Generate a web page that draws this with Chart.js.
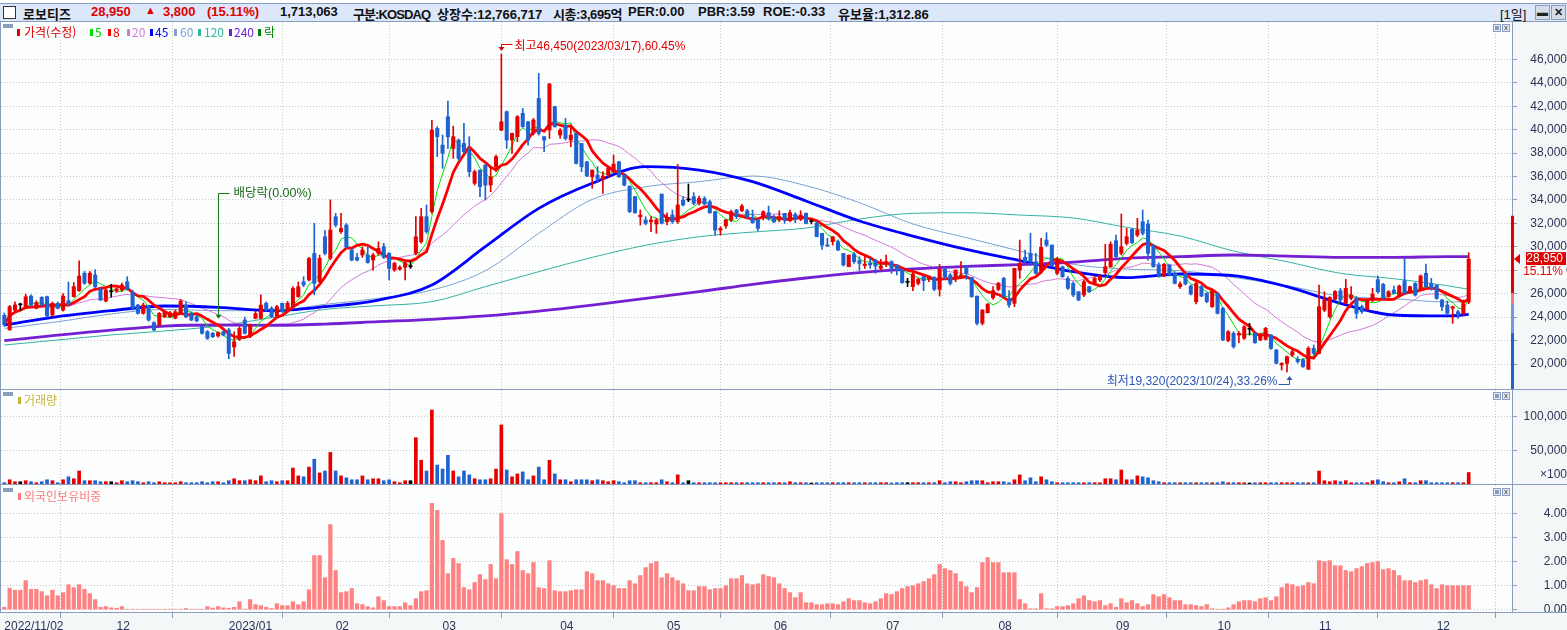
<!DOCTYPE html>
<html lang="ko">
<head>
<meta charset="utf-8">
<title>로보티즈 일봉</title>
<script src="https://cdn.jsdelivr.net/npm/chart.js@4.4.1/dist/chart.umd.min.js"></script>
<style>
html,body{margin:0;padding:0}
body{position:relative;width:1567px;height:630px;overflow:hidden;background:#f4f7f7;font-family:"Noto Sans CJK KR","Liberation Sans",sans-serif}
#topstrip{position:absolute;left:0;top:0;width:1567px;height:3px;background:#fdfefe}
#hdr{position:absolute;left:0;top:3px;width:1567px;height:17px;background:#dce7fa;border-top:1px solid #8b9dbf;border-bottom:1px solid #8b9dbf}
#hdr span{position:absolute;top:0;line-height:17px;font:bold 13px "Liberation Sans","Noto Sans CJK KR",sans-serif;color:#111;white-space:nowrap}
#hdr span.up{color:#e00000}
.chk{position:absolute;left:3px;top:2px;width:11px;height:11px;background:#fff;border:1px solid #333}
.hbtn{position:absolute;top:1px;width:15px;height:15px;box-sizing:border-box;border:1px solid #8b9dbf;background:#d7dde8;font:bold 11px "Liberation Sans";color:#222;text-align:center;line-height:13px}
.wrap{position:absolute;left:0;width:1567px}
.wrap canvas{position:absolute;left:0;top:0}
.leg{position:absolute;font-size:12px;line-height:14px;white-space:nowrap}
.mk{position:absolute;width:3px;height:7px}
.ico{position:absolute;left:3px;width:10px;height:4px;background:#8b9dbf}
.hl{position:absolute;left:0;width:1567px;height:1px;background:#8b9dbf}
.vl{position:absolute;left:0;top:22px;width:1px;height:590px;background:#8b9dbf}
.mini{position:absolute;width:8px;height:8px;box-sizing:border-box;border:1px solid #8b9dbf;background:#e6ebf3;font:bold 7px "Liberation Sans";color:#556;line-height:6px;text-align:center}
.mini i{position:absolute;left:1px;top:1px;width:4px;height:4px;background:#8b9dbf}
</style>
</head>
<body>
<div id="topstrip"></div>
<div id="hdr">
  <div class="chk"></div>
  <span style="left:23px">로보티즈</span>
  <span class="up" style="left:91px">28,950</span>
  <span class="up" style="left:145px;font-size:11px">▲</span>
  <span class="up" style="left:163px">3,800</span>
  <span class="up" style="left:207px">(15.11%)</span>
  <span style="left:280px">1,713,063</span>
  <span style="left:353px;letter-spacing:-0.9px">구분:KOSDAQ</span>
  <span style="left:437px">상장수:12,766,717</span>
  <span style="left:553px;letter-spacing:-0.4px">시총:3,695억</span>
  <span style="left:628px">PER:0.00</span>
  <span style="left:698px">PBR:3.59</span>
  <span style="left:763px">ROE:-0.33</span>
  <span style="left:838px">유보율:1,312.86</span>
  <span style="left:1500px;font-weight:normal">[1일]</span>
  <div class="hbtn" style="left:1535px">▬</div>
  <div class="hbtn" style="left:1551px">✕</div>
</div>

<div class="wrap" style="top:22px;height:367px"><canvas id="cPrice" width="1567" height="367"></canvas></div>
<div class="wrap" style="top:390px;height:94px"><canvas id="cVol" width="1567" height="94"></canvas></div>
<div class="wrap" style="top:485px;height:145px"><canvas id="cFor" width="1567" height="145"></canvas></div>

<div class="hl" style="top:389px"></div>
<div class="hl" style="top:484px"></div>
<div class="hl" style="top:612px"></div>
<div class="vl"></div>

<div class="ico" style="top:24px"></div>
<div class="mk" style="left:17px;top:29px;background:#e00000"></div><div class="leg" style="left:24px;top:25px;color:#e00000">가격(수정)</div>
<div class="mk" style="left:90px;top:29px;background:#00dd00"></div><div class="leg" style="left:95px;top:25px;color:#00cc00">5</div>
<div class="mk" style="left:108px;top:29px;background:#ff0000"></div><div class="leg" style="left:113px;top:25px;color:#ff0000">8</div>
<div class="mk" style="left:127px;top:29px;background:#d47ad6"></div><div class="leg" style="left:132px;top:25px;color:#d47ad6">20</div>
<div class="mk" style="left:150px;top:29px;background:#0000ff"></div><div class="leg" style="left:155px;top:25px;color:#0000ff">45</div>
<div class="mk" style="left:174px;top:29px;background:#7ba3d4"></div><div class="leg" style="left:180px;top:25px;color:#7ba3d4">60</div>
<div class="mk" style="left:198px;top:29px;background:#35b3a3"></div><div class="leg" style="left:204px;top:25px;color:#35b3a3">120</div>
<div class="mk" style="left:229px;top:29px;background:#7420d2"></div><div class="leg" style="left:234px;top:25px;color:#7420d2">240</div>
<div class="mk" style="left:258px;top:29px;background:#008000"></div><div class="leg" style="left:264px;top:25px;color:#008000">락</div>

<div class="ico" style="top:392px"></div>
<div class="mk" style="left:18px;top:397px;background:#c8b43c"></div><div class="leg" style="left:24px;top:393px;color:#c8b43c">거래량</div>
<div class="ico" style="top:488px"></div>
<div class="mk" style="left:18px;top:493px;background:#ff7b7b"></div><div class="leg" style="left:24px;top:489px;color:#ff7b7b">외국인보유비중</div>

<div class="mini" style="left:1493px;top:24px"><i></i></div><div class="mini" style="left:1502px;top:24px">x</div>
<div class="mini" style="left:1493px;top:392px"><i></i></div><div class="mini" style="left:1502px;top:392px">x</div>
<div class="mini" style="left:1493px;top:488px"><i></i></div><div class="mini" style="left:1502px;top:488px">x</div>

<script>
// 2022/11/02 ~ 2023/12/11 일봉 (수정주가)
var opens = [
  24150, 22900, 24600, 25050, 24830, 25800, 24750, 25690, 25750, 24180,
  25180, 24600, 25400, 25750, 26260, 27750, 26900, 27600, 26370, 25370,
  26170, 26230, 26320, 27020, 26090, 25030, 24320, 24890, 23530, 23330,
  24040, 24040, 23900, 24320, 25030, 24320, 24040, 23180, 22760, 22620,
  22390, 22760, 22900, 21450, 22100, 23750, 22350, 23900, 23900, 25180,
  24750, 24100, 25180, 24600, 24890, 25750, 27020, 27170, 29440, 27020,
  30860, 29020, 32570, 31290, 31860, 29730, 29100, 29300, 29300, 28870,
  29440, 30010, 29440, 28020, 28080, 28250, 28300, 29440, 30430, 32570,
  33000, 40100, 38680, 41100, 38400, 39110, 38820, 38260, 35420, 36550,
  36980, 35270, 36840, 39960, 41530, 39110, 39400, 41390, 40670, 39680,
  42660, 39400, 39960, 41960, 39540, 40390, 39110, 39680, 38820, 37260,
  35980, 36120, 35760, 36120, 36410, 37260, 36120, 35180, 34280, 32570,
  32290, 32140, 31950, 34500, 32140, 32710, 32140, 33990, 33990, 34280,
  33710, 34130, 33850, 33000, 31430, 31780, 32290, 33140, 33080, 33080,
  32510, 32290, 32510, 32910, 32570, 32290, 32860, 32230, 32770, 32340,
  32860, 32140, 31990, 31150, 30150, 30440, 30430, 29440, 28300, 29380,
  28820, 28390, 28590, 28870, 28160, 28530, 28730, 28450, 28080, 26970,
  26600, 26880, 27450, 27230, 27400, 26370, 28080, 27590, 27310, 27400,
  28360, 27400, 25800, 23470, 24380, 25660, 26370, 27310, 25600, 25180,
  28020, 29100, 29440, 28730, 27880, 30580, 30150, 27740, 28300, 27310,
  26880, 26170, 25890, 26600, 26880, 27170, 27790, 28300, 30520, 29440,
  30290, 31490, 31000, 32140, 31950, 30150, 28450, 27510, 28450, 27740,
  26600, 27670, 26660, 25320, 26600, 26030, 24890, 26030, 24750, 22000,
  22620, 22470, 22190, 22960, 22620, 22050, 22100, 22470, 21190, 19920,
  20060, 20770, 20400, 20340, 19550, 21340, 20910, 24600, 24040, 25520,
  26260, 25180, 25600, 25600, 24890, 24660, 25460, 27200, 26800, 25750,
  26310, 25750, 27110, 26090, 26880, 26450, 27740, 26880, 26740, 25460,
  25030, 24750, 24460, 24320, 25300
];
var highs = [
  24350, 25000, 25300, 25200, 25970, 25900, 25400, 25750, 25800, 25300,
  25300, 26000, 27000, 26950, 28800, 27900, 27900, 28050, 26500, 26400,
  26800, 26500, 26900, 27450, 26300, 25100, 25200, 25000, 23600, 24400,
  24500, 24500, 24600, 25500, 25300, 24450, 24150, 23300, 22850, 22700,
  22750, 22800, 23050, 22750, 23200, 24000, 23400, 24500, 25900, 25300,
  24900, 25000, 25200, 25350, 26600, 27000, 27450, 29100, 32000, 29300,
  31400, 34000, 32850, 32850, 32000, 29900, 29440, 30000, 30000, 29440,
  30430, 30300, 29500, 28700, 28400, 28700, 28750, 32570, 33280, 33570,
  40800, 40250, 39540, 42440, 40300, 39200, 40530, 39400, 36550, 36550,
  37000, 36830, 37830, 46450, 41600, 39700, 41200, 41810, 40700, 40960,
  44800, 39400, 43950, 42000, 40100, 40960, 40390, 39700, 38820, 37300,
  36550, 36840, 36410, 36830, 37830, 37300, 36200, 35200, 34300, 33140,
  32570, 32570, 32430, 34500, 32910, 33140, 37030, 34280, 35360, 34620,
  34330, 34280, 33990, 33000, 31720, 32340, 33140, 33200, 33620, 33200,
  33140, 32340, 33080, 33480, 32710, 33080, 32860, 33140, 32910, 33080,
  32910, 32340, 32140, 31150, 30720, 30860, 30580, 29440, 29300, 29500,
  29160, 29300, 29020, 28930, 28930, 29300, 28820, 28450, 28080, 27310,
  27880, 27310, 27510, 27510, 27450, 28500, 28160, 27740, 28020, 28730,
  28360, 27400, 25800, 24650, 25150, 26600, 26970, 27400, 26260, 28160,
  30580, 29730, 31150, 29440, 30720, 31210, 30150, 29100, 28360, 27450,
  27020, 26170, 27170, 26600, 27450, 27590, 30220, 30430, 31000, 32800,
  31570, 31570, 32430, 33140, 32290, 30150, 28650, 28590, 28530, 27880,
  27020, 27740, 26740, 27020, 26740, 26090, 26370, 26090, 24830, 22850,
  22760, 22760, 23270, 23470, 22670, 22620, 23130, 22520, 21250, 20120,
  20680, 21190, 20630, 20480, 21480, 21620, 26740, 26170, 25750, 26260,
  26460, 27230, 26600, 25750, 25030, 25520, 26460, 27510, 26880, 26260,
  26650, 26740, 28990, 26660, 26940, 27600, 28530, 27310, 26740, 25520,
  25380, 24950, 24600, 25460, 29500
];
var lows = [
  23200, 22900, 24500, 24600, 24750, 24950, 24700, 24950, 24000, 24100,
  24700, 24500, 25000, 25700, 26200, 26800, 26800, 26500, 25400, 25300,
  25700, 26100, 26200, 26300, 24600, 24250, 24250, 23650, 22850, 23250,
  23950, 23950, 23850, 24250, 23950, 23700, 23600, 22550, 22100, 22250,
  22300, 22400, 20450, 20650, 22000, 22550, 22250, 23850, 23850, 24500,
  23950, 24000, 24400, 24500, 24800, 25700, 26600, 27100, 25900, 26900,
  29300, 28900, 31700, 31150, 29900, 28800, 28800, 29100, 28600, 28000,
  29300, 29000, 27170, 27900, 28000, 27170, 28150, 29300, 30300, 31150,
  32850, 37700, 36700, 38400, 37550, 37400, 37980, 35980, 35270, 34280,
  34000, 34700, 36410, 39900, 38400, 37980, 38970, 40200, 38680, 39540,
  39540, 38110, 39250, 40200, 39250, 39110, 38540, 37060, 36410, 35980,
  34990, 35560, 34560, 35980, 36320, 35920, 35200, 32920, 32850, 31860,
  31860, 31290, 31150, 31950, 31860, 32000, 32000, 33500, 33850, 33570,
  33570, 33570, 32850, 31000, 31000, 31570, 32140, 32400, 33000, 32430,
  32000, 31380, 32290, 32290, 32060, 32140, 32000, 32140, 32060, 32230,
  31950, 31950, 30860, 29780, 30010, 30150, 29670, 28360, 28300, 28590,
  27960, 28160, 28160, 27740, 28020, 28300, 27740, 27600, 26880, 26600,
  26260, 26740, 26260, 27020, 26260, 25800, 27230, 26740, 27020, 27310,
  27230, 25690, 23330, 23330, 24350, 25520, 26260, 25690, 24830, 24890,
  27310, 28650, 28450, 27680, 27740, 30010, 28300, 27600, 27400, 26370,
  25750, 25400, 25750, 26090, 26740, 27020, 27590, 28250, 29100, 29300,
  30150, 30290, 30860, 31000, 28870, 28250, 27400, 27450, 27510, 26830,
  26460, 26740, 25890, 25120, 25750, 25230, 24830, 24270, 22000, 21900,
  21340, 21820, 22100, 22470, 21760, 22000, 22050, 21250, 20000, 19490,
  19320, 20630, 20060, 19710, 19550, 20770, 20860, 24460, 23900, 25460,
  25320, 25120, 25460, 23900, 24320, 24600, 25320, 26030, 25520, 25690,
  25970, 25690, 25970, 26030, 25800, 26310, 26540, 26310, 25520, 24550,
  24180, 23470, 23900, 24100, 25150
];
var closes = [
  23350, 24890, 25050, 25050, 25740, 25030, 25230, 25030, 24100, 25180,
  24750, 25800, 25100, 26600, 27500, 26900, 27750, 26600, 25460, 26310,
  26170, 26420, 26740, 26370, 24750, 24320, 25030, 23750, 22900, 24320,
  24400, 24380, 24460, 25380, 24040, 23750, 23670, 22620, 22190, 22330,
  22680, 22470, 20910, 21900, 23040, 22620, 23330, 24300, 25030, 24600,
  24040, 24890, 24460, 25180, 26450, 26600, 26740, 29000, 26880, 29020,
  29440, 31430, 31860, 31570, 30010, 28870, 28870, 29730, 28650, 29300,
  29870, 29100, 28160, 28590, 28250, 28650, 28300, 30860, 32570, 31290,
  39960, 39400, 37980, 39400, 39400, 37550, 38110, 36410, 36410, 35130,
  35270, 35980, 37690, 40670, 39110, 39680, 41100, 40250, 39110, 40820,
  39680, 39110, 43890, 40250, 39960, 39250, 39540, 37120, 36840, 36040,
  36550, 35760, 36040, 36690, 37060, 35980, 35270, 33000, 32920, 32700,
  32000, 32290, 32290, 32000, 32510, 32140, 33570, 33570, 33990, 33710,
  34130, 33650, 32910, 31430, 31570, 32290, 33000, 32570, 33480, 32570,
  32060, 31570, 33000, 32430, 32140, 32570, 32290, 32910, 32340, 32710,
  32000, 32140, 30860, 30150, 30070, 30860, 29730, 28450, 29300, 28730,
  28590, 28530, 28450, 28360, 28360, 28730, 28160, 28020, 26940, 26970,
  27680, 27230, 27110, 27400, 26370, 28080, 27450, 26880, 28020, 27590,
  27740, 25750, 23470, 24600, 25120, 26260, 26880, 25750, 25030, 28160,
  28590, 28730, 28730, 27740, 29950, 30150, 28360, 28930, 27450, 26460,
  25890, 25460, 27020, 26170, 27310, 27510, 28300, 30220, 29160, 30010,
  30860, 30350, 31430, 31150, 29440, 28300, 27450, 28510, 27590, 26880,
  26830, 26830, 25970, 26880, 25800, 25320, 26310, 24320, 22050, 22760,
  21480, 22620, 23180, 22960, 21820, 22470, 23040, 21340, 20060, 20060,
  20630, 21050, 20200, 19780, 21340, 20910, 24890, 25460, 25690, 26180,
  25460, 26460, 25890, 24320, 24460, 25460, 25970, 26170, 25600, 26170,
  26030, 26650, 26030, 26600, 25890, 27510, 26600, 26460, 25600, 24890,
  24320, 24890, 24180, 25150, 28950
];
// 거래량 (x100주)
var volumes = [
  1900, 6300, 3400, 3400, 4900, 3400, 1900, 3400, 6300, 4900,
  1900, 6300, 10700, 7800, 19400, 4900, 4900, 4900, 3400, 3400,
  3400, 1900, 4900, 3400, 4900, 3400, 1900, 3400, 1900, 3400,
  1900, 1900, 1900, 3400, 1900, 1900, 1900, 3400, 1900, 3400,
  3400, 1900, 4900, 7800, 4900, 4900, 6300, 4900, 12100, 3400,
  4900, 3400, 4900, 4900, 23800, 12100, 10700, 25200, 36900, 16500,
  19400, 47100, 19400, 12100, 9200, 6300, 6300, 12100, 6300, 7800,
  7800, 4900, 6300, 3400, 1900, 4900, 4900, 68900, 35400, 19400,
  110200, 28200, 22300, 42700, 19400, 10700, 19400, 13600, 7800, 6300,
  6300, 7800, 22300, 87900, 20900, 10700, 15000, 18000, 6300, 12100,
  25200, 6300, 35400, 15000, 6300, 6300, 3400, 6300, 6300, 6300,
  4900, 6300, 4900, 3400, 4900, 3400, 1900, 4900, 4900, 1900,
  1900, 1900, 1900, 6300, 3400, 1900, 13600, 1900, 4900, 1900,
  1900, 1900, 1900, 1900, 1900, 1900, 1900, 1900, 1900, 1900,
  1900, 1900, 1900, 1900, 1900, 1900, 1900, 3400, 1900, 1900,
  1900, 1500, 1900, 1900, 1900, 1900, 1900, 1900, 1900, 1900,
  1900, 1900, 1900, 1900, 1900, 1900, 1500, 1900, 1900, 1900,
  1900, 1900, 1900, 1900, 1900, 4900, 1900, 3400, 3400, 1900,
  3400, 4900, 4900, 4900, 1900, 3400, 3400, 3400, 1900, 6300,
  13600, 4900, 9200, 3400, 10700, 6300, 3400, 1900, 1900, 1900,
  1900, 1900, 1900, 1900, 1900, 1900, 7800, 7800, 6300, 20900,
  6300, 6300, 12100, 10700, 9200, 4900, 3400, 1900, 1900, 1900,
  1900, 1900, 1900, 1900, 1900, 1900, 1900, 1900, 3400, 1900,
  1900, 1900, 1900, 1500, 1900, 1900, 1900, 1900, 1900, 1900,
  1900, 1900, 1900, 1900, 1900, 1900, 19400, 4900, 3400, 4900,
  3400, 4900, 1900, 1900, 1900, 1900, 4900, 6300, 3400, 1900,
  1900, 3400, 7800, 1900, 1900, 4900, 4900, 1900, 1900, 1900,
  1900, 1900, 1900, 1900, 17131
];
// 외국인보유비중 (%)
var foreignRatio = [
  0.10, 0.89, 0.81, 0.81, 1.21, 0.85, 0.85, 0.75, 0.58, 0.81,
  0.58, 0.71, 1.04, 0.92, 1.04, 0.85, 0.67, 0.42, 0.10, 0.13,
  0.08, 0.06, 0.13, 0.02, 0.02, 0.02, 0.02, 0.02, 0.02, 0.02,
  0.02, 0.02, 0.02, 0.02, 0.05, 0.02, 0.02, 0.02, 0.13, 0.07,
  0.13, 0.08, 0.06, 0.10, 0.33, 0.02, 0.42, 0.21, 0.17, 0.10,
  0.05, 0.25, 0.17, 0.17, 0.33, 0.21, 0.33, 0.83, 2.25, 2.25,
  1.33, 3.54, 1.63, 0.71, 0.75, 0.88, 0.25, 0.21, 0.13, 0.08,
  0.54, 0.38, 0.13, 0.13, 0.13, 0.29, 0.17, 0.46, 0.75, 0.79,
  4.42, 4.13, 2.88, 1.50, 2.13, 1.92, 0.92, 0.83, 1.13, 1.46,
  1.25, 1.88, 1.29, 4.00, 2.08, 1.88, 2.42, 1.63, 1.50, 1.96,
  0.92, 0.88, 2.04, 0.79, 0.75, 0.75, 0.79, 0.83, 0.83, 1.58,
  1.50, 1.21, 1.21, 1.08, 1.00, 0.88, 0.88, 1.21, 1.08, 1.42,
  1.75, 1.92, 2.00, 1.33, 1.50, 1.33, 1.21, 1.08, 0.79, 0.79,
  0.96, 0.96, 0.83, 0.88, 0.88, 1.00, 1.29, 1.29, 1.42, 1.08,
  1.04, 1.08, 1.46, 1.38, 1.33, 1.08, 0.88, 0.71, 0.50, 0.71,
  0.29, 0.29, 0.21, 0.21, 0.25, 0.25, 0.21, 0.33, 0.46, 0.38,
  0.38, 0.29, 0.25, 0.33, 0.46, 0.67, 0.63, 0.75, 0.88, 0.96,
  1.00, 1.08, 1.17, 1.29, 1.46, 1.88, 1.71, 1.63, 1.50, 1.17,
  0.96, 0.71, 0.92, 1.96, 2.17, 1.96, 1.96, 1.54, 1.54, 1.54,
  0.42, 0.25, 0.04, 0.04, 0.67, 0.04, 0.04, 0.13, 0.13, 0.17,
  0.25, 0.46, 0.58, 0.38, 0.33, 0.38, 0.17, 0.25, 0.10, 0.46,
  0.29, 0.38, 0.25, 0.13, 0.21, 0.63, 0.54, 0.63, 0.50, 0.38,
  0.38, 0.21, 0.21, 0.17, 0.13, 0.21, 0.04, 0.02, 0.02, 0.08,
  0.21, 0.33, 0.38, 0.38, 0.33, 0.46, 0.50, 0.38, 0.54, 0.92,
  1.08, 1.04, 0.96, 1.00, 1.13, 1.08, 2.04, 2.00, 2.04, 1.83,
  1.83, 1.63, 1.58, 1.71, 1.79, 1.92, 1.96, 2.00, 1.67, 1.71,
  1.63, 1.42, 1.21, 1.21, 1.13, 1.21, 1.25, 1.04, 0.88, 1.04,
  1.00, 1.00, 1.00, 1.00, 1.00
];

// 장기 이동평균 (그림에서 10일 간격으로 읽은 값)
var maSampleDays = [0, 10, 20, 30, 40, 50, 60, 70, 80, 90, 100, 110, 120, 130, 140, 150, 160, 170, 180, 190, 200, 210, 220, 230, 240, 250, 260, 270, 274];
var ma45 = [23330, 24040, 24550, 24950, 24840, 24550, 24890, 25460, 26740, 30010, 33280, 35420, 36840, 36550, 35560, 33910, 32200, 30920, 29780, 28820, 27880, 27370, 27680, 27540, 26600, 25180, 24180, 24100, 24240];
var ma60 = [23040, 23610, 24270, 24660, 24550, 24550, 25090, 25600, 26310, 27960, 31150, 34050, 35130, 35560, 36040, 35220, 33770, 31950, 30780, 29640, 28500, 28100, 27960, 27390, 26680, 25800, 25570, 25290, 25320];
var ma120 = [21620, 22050, 22480, 22820, 23240, 23950, 24660, 24980, 25320, 26600, 27880, 29100, 30130, 30860, 31260, 31600, 32370, 32860, 32910, 32710, 32460, 31660, 30920, 29640, 28730, 27740, 27280, 26680, 26370];
var ma240 = [21990, 22470, 22900, 23240, 23330, 23300, 23410, 23610, 23810, 24100, 24520, 25030, 25600, 26170, 26800, 27340, 27790, 28110, 28330, 28480, 28700, 29020, 29160, 29300, 29210, 29100, 29100, 29160, 29160];

// x축 월 표시
var monthStarts = [0, 21, 42, 62, 82, 104, 124, 144, 165, 186, 208, 227, 246, 268];
var monthLabels = ['2022/11/02', '12', '2023/01', '02', '03', '04', '05', '06', '07', '08', '09', '10', '11', '12'];

var priceTicks = [20000, 22000, 24000, 26000, 28000, 30000, 32000, 34000, 36000, 38000, 40000, 42000, 44000, 46000];
var volTicks = [14000, 50000, 100000];
var foreignTicks = [0, 1, 2, 3, 4];

// 표시 마크
var highMark = { day: 93, price: 46450, text: '최고46,450(2023/03/17),60.45%' };
var lowMark = { day: 240, price: 19320, text: '최저19,320(2023/10/24),33.26%' };
var divMark = { day: 40, labelPrice: 34560, text: '배당락(0.00%)' };
var upperLimitPrice = 32650;

Chart.defaults.font.family = '"Liberation Sans", "Noto Sans CJK KR", sans-serif';
Chart.defaults.font.size = 12;
Chart.defaults.color = '#2a3356';
Chart.defaults.animation = false;

var AXIS_W = 55, X_MIN = -0.62, X_MAX = 282.1;
var GRID = '#c4c8cc', FRAME = '#8b9dbf', LABEL = '#2a3356';
var UP = '#e60000', DOWN = '#1f62d2', FLAT = '#000000';
var CLEAR = 'rgba(0,0,0,0)';

function fmtNum(v) { return Number(v).toLocaleString('en-US'); }

function candleColor(i) {
    if (closes[i] > opens[i]) return UP;
    if (closes[i] < opens[i]) return DOWN;
    return FLAT;
}

function movingAvg(src, n) {
    return src.map(function (_, i) {
        var from = Math.max(0, i - n + 1), s = 0;
        for (var k = from; k <= i; k++) s += src[k];
        return { x: i, y: s / (i - from + 1) };
    });
}

function sampled(vals) {
    return vals.map(function (v, k) { return { x: maSampleDays[k], y: v }; });
}

function maLine(points, color, width, order, smooth) {
    var ds = {
        type: 'line', data: points, borderColor: color, borderWidth: width,
        pointRadius: 0, tension: 0, order: order, borderJoinStyle: 'round'
    };
    // 띄엄띄엄 읽은 값은 곡선으로 잇는다
    if (smooth) ds.cubicInterpolationMode = 'monotone';
    return ds;
}

function xAxis(withLabels) {
    return {
        type: 'linear', min: X_MIN, max: X_MAX, offset: false,
        afterBuildTicks: function (s) {
            s.ticks = monthStarts.map(function (v) { return { value: v }; });
        },
        afterFit: function (s) {
            s.height = withLabels ? 18 : 0;
            s.paddingLeft = 0; s.paddingRight = 0;
        },
        border: { display: false, dash: [1, 2] },
        grid: {
            color: function (ctx) { return ctx.index === 0 ? CLEAR : GRID; },
            drawTicks: withLabels, tickLength: 6, tickColor: FRAME
        },
        ticks: {
            display: withLabels, autoSkip: false, maxRotation: 0, minRotation: 0,
            align: 'start', padding: 1, color: LABEL,
            callback: function (v, i) { return monthLabels[i]; }
        }
    };
}

function yAxis(o) {
    return {
        type: 'linear', position: 'right', min: o.min, max: o.max,
        afterBuildTicks: function (s) {
            s.ticks = o.ticks.map(function (v) { return { value: v }; });
        },
        afterFit: function (s) {
            s.width = AXIS_W; s.paddingTop = 0; s.paddingBottom = 0;
        },
        border: { display: true, color: FRAME, width: 1, dash: [1, 2] },
        grid: {
            color: o.gridColor || GRID, drawTicks: true, tickLength: 5,
            tickColor: o.tickColor || FRAME
        },
        ticks: { padding: o.pad, crossAlign: 'far', color: LABEL, callback: o.fmt }
    };
}

var plotBg = {
    id: 'plotBg',
    beforeDraw: function (c) {
        var a = c.chartArea, g = c.ctx;
        g.save();
        g.fillStyle = '#fdfefe';
        g.fillRect(a.left, a.top, a.right - a.left, a.bottom - a.top);
        g.restore();
    }
};

function baseOptions(scales) {
    return {
        responsive: false, maintainAspectRatio: false, animation: false, events: [],
        layout: { padding: { left: 1, right: 0, top: 0, bottom: 0 } },
        plugins: { legend: { display: false }, tooltip: { enabled: false } },
        scales: scales
    };
}

// 가격 영역의 주석 (최고/최저, 배당락, 현재가 표시)
var priceMarks = {
    id: 'priceMarks',
    afterDraw: function (c) {
        var g = c.ctx, xs = c.scales.x, ys = c.scales.y, a = c.chartArea;
        var last = closes.length - 1;
        var lastClose = closes[last], prevClose = closes[last - 1];
        var font = '12px "Liberation Sans", "Noto Sans CJK KR", sans-serif';
        g.save();

        // 상하한 막대
        function band(v1, v2, col) {
            var y1 = Math.max(ys.getPixelForValue(v1), a.top);
            var y2 = Math.min(ys.getPixelForValue(v2), a.bottom);
            g.fillStyle = col;
            g.fillRect(a.right - 1, y1, 3, y2 - y1);
        }
        band(upperLimitPrice, 26050, '#e00000');
        band(26050, prevClose, '#f27a7a');
        band(prevClose, 22640, '#6f98e2');
        band(22640, ys.min, '#2062d0');

        // 현재가 라벨
        var yc = ys.getPixelForValue(lastClose);
        g.fillStyle = '#e00000';
        g.beginPath();
        g.moveTo(a.right + 2, yc);
        g.lineTo(a.right + 8, yc - 5);
        g.lineTo(a.right + 8, yc + 5);
        g.closePath();
        g.fill();
        g.fillRect(a.right + 14, yc - 7, 40, 13);
        g.fillStyle = '#fdfefe';
        g.fillRect(a.right + 14, yc + 6, 40, 13);
        g.font = font;
        g.textAlign = 'right';
        g.textBaseline = 'middle';
        g.fillStyle = '#ffffff';
        g.fillText(fmtNum(lastClose), a.right + 51, yc);
        g.fillStyle = '#e00000';
        g.fillText(((lastClose - prevClose) / prevClose * 100).toFixed(2) + '%', a.right + 51, yc + 13);

        // 최고
        var hx = Math.round(xs.getPixelForValue(highMark.day)) + 0.5;
        var hy = ys.getPixelForValue(highMark.price);
        var hl = Math.round(hy - 10.5) + 0.5;
        g.strokeStyle = '#e00000'; g.fillStyle = '#e00000'; g.lineWidth = 1;
        g.beginPath();
        g.moveTo(hx + 11, hl); g.lineTo(hx, hl); g.lineTo(hx, hy - 6);
        g.stroke();
        g.beginPath();
        g.moveTo(hx - 3, hy - 7); g.lineTo(hx + 3, hy - 7); g.lineTo(hx, hy - 3);
        g.closePath(); g.fill();
        g.textAlign = 'left';
        g.fillText(highMark.text, hx + 13, hl + 2.5);

        // 최저
        var lx = Math.round(xs.getPixelForValue(lowMark.day)) + 2.5;
        var ly = ys.getPixelForValue(lowMark.price);
        var ll = Math.round(ly + 12) + 0.5;
        g.strokeStyle = '#2f55b5'; g.fillStyle = '#2f55b5';
        g.beginPath();
        g.moveTo(lx - 11, ll); g.lineTo(lx, ll); g.lineTo(lx, ly + 7);
        g.stroke();
        g.beginPath();
        g.moveTo(lx - 3, ly + 8); g.lineTo(lx + 3, ly + 8); g.lineTo(lx, ly + 4);
        g.closePath(); g.fill();
        g.textAlign = 'right';
        g.fillText(lowMark.text, lx - 12, ll - 2.5);

        // 배당락
        var dx = Math.round(xs.getPixelForValue(divMark.day)) + 0.5;
        var dTop = Math.round(ys.getPixelForValue(divMark.labelPrice)) + 0.5;
        var dTip = ys.getPixelForValue(highs[divMark.day]) - 13;
        g.strokeStyle = '#177a17'; g.fillStyle = '#177a17';
        g.beginPath();
        g.moveTo(dx + 11, dTop); g.lineTo(dx, dTop); g.lineTo(dx, dTip - 3);
        g.stroke();
        g.beginPath();
        g.moveTo(dx - 3, dTip - 4); g.lineTo(dx + 3, dTip - 4); g.lineTo(dx, dTip);
        g.closePath(); g.fill();
        g.textAlign = 'left';
        g.fillStyle = '#1a6a1a';
        g.font = '12.5px "Liberation Sans", "Noto Sans CJK KR", sans-serif';
        g.fillText(divMark.text, dx + 15, dTop + 0.5);
        g.restore();
    }
};

var candleColors = closes.map(function (_, i) { return candleColor(i); });
var bodies = opens.map(function (o, i) { return { x: i, y: [o, closes[i]] }; });
var wicks = highs.map(function (h, i) { return { x: i, y: [lows[i], h] }; });

new Chart(document.getElementById('cPrice'), {
    type: 'bar',
    data: {
        datasets: [
            { data: bodies, backgroundColor: candleColors, barThickness: 3.4, grouped: false, minBarLength: 1, order: 0 },
            { data: wicks, backgroundColor: candleColors, barThickness: 1, grouped: false, order: 1 },
            maLine(movingAvg(closes, 8), '#ff0000', 2.8, 2),
            maLine(movingAvg(closes, 5), '#00e000', 1, 3),
            maLine(sampled(ma240), '#7420d2', 2.8, 4, true),
            maLine(sampled(ma45), '#0000ff', 2.8, 5, true),
            maLine(movingAvg(closes, 20), '#d47ad6', 1, 6),
            maLine(sampled(ma60), '#7ba3d4', 1, 7, true),
            maLine(sampled(ma120), '#35b3a3', 1, 8, true)
        ]
    },
    options: baseOptions({
        x: xAxis(false),
        y: yAxis({ min: 17867, max: 49185, ticks: priceTicks, pad: 9.3, fmt: fmtNum })
    }),
    plugins: [plotBg, priceMarks]
});

var volColors = volumes.map(function (_, i) { return candleColor(i); });
new Chart(document.getElementById('cVol'), {
    type: 'bar',
    data: {
        datasets: [{
            data: volumes.map(function (v, i) { return { x: i, y: v }; }),
            backgroundColor: volColors, barThickness: 3, grouped: false
        }]
    },
    options: baseOptions({
        x: xAxis(false),
        y: yAxis({
            min: 0, max: 140000, ticks: volTicks, pad: 2.6,
            gridColor: function (ctx) { return ctx.tick && ctx.tick.value === volTicks[0] ? CLEAR : GRID; },
            tickColor: function (ctx) { return ctx.tick && ctx.tick.value === volTicks[0] ? CLEAR : FRAME; },
            fmt: function (v) { return v === volTicks[0] ? '×100' : fmtNum(v); }
        })
    }),
    plugins: [plotBg]
});

new Chart(document.getElementById('cFor'), {
    type: 'bar',
    data: {
        datasets: [{
            data: foreignRatio.map(function (v, i) { return { x: i, y: v }; }),
            backgroundColor: '#ff8282', barThickness: 3.6, grouped: false
        }]
    },
    options: baseOptions({
        x: xAxis(true),
        y: yAxis({
            min: -0.096, max: 5.185, ticks: foreignTicks, pad: 22.7,
            fmt: function (v) { return Number(v).toFixed(2); }
        })
    }),
    plugins: [plotBg]
});
</script>
</body>
</html>
